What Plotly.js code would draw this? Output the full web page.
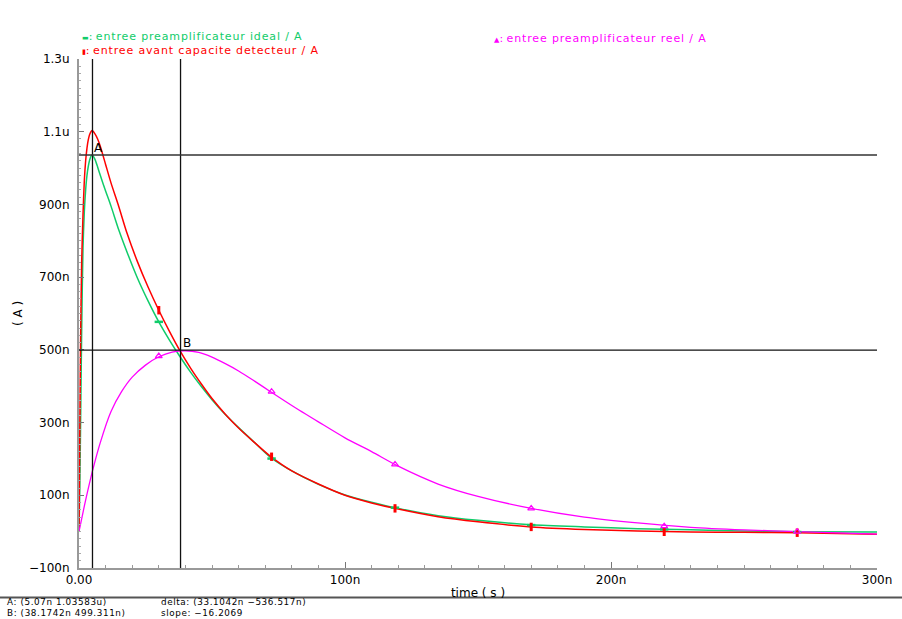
<!DOCTYPE html>
<html><head><meta charset="utf-8">
<script src="https://cdn.plot.ly/plotly-3.0.1.min.js"></script>
<style>html,body{margin:0;padding:0;background:#fff}#chart{width:902px;height:619px}</style>
</head><body><div id="chart"></div>
<script>
// time in ns, current in uA
const timeDet = [0,0.3,0.6,1,1.5,2,2.5,3,3.5,4,4.5,5,6,7,8,10,12,15,18,22,26,30,34,38,42,46,50,55,60,66,72,80,90,100,110,120,135,150,170,190,210,230,250,270,300];
const ideal   = [0,0.12,0.30,0.55,0.78,0.88,0.94,0.98,1.005,1.022,1.033,1.036,1.024,1.003,0.980,0.937,0.896,0.829,0.770,0.697,0.634,0.577,0.527,0.481,0.438,0.399,0.363,0.322,0.286,0.245,0.204,0.167,0.130,0.101,0.081,0.064,0.044,0.031,0.019,0.013,0.008,0.005,0.002,0.000,-0.001];
const avant   = [0,0.28,0.53,0.74,0.87,0.965,1.02,1.055,1.078,1.092,1.100,1.103,1.094,1.080,1.060,1.010,0.960,0.893,0.822,0.742,0.672,0.609,0.551,0.497,0.449,0.406,0.366,0.323,0.285,0.245,0.207,0.167,0.131,0.100,0.079,0.062,0.041,0.027,0.013,0.006,0.002,-0.001,-0.002,-0.003,-0.007];
const timeReel = [0,1,2,3,5,8,12,16,20,25,30,35,40,45,50,55,60,66,72,80,90,100,110,120,135,150,170,190,210,230,250,270,300];
const reel     = [0,0.035,0.070,0.103,0.165,0.245,0.330,0.385,0.425,0.458,0.481,0.494,0.4975,0.493,0.480,0.462,0.442,0.414,0.385,0.347,0.302,0.258,0.220,0.180,0.131,0.097,0.064,0.040,0.024,0.012,0.005,0.000,-0.007];
// marker points
const markTime  = [30,72.4,118.8,170,220,270];
const markIdeal = [0.577,0.201,0.066,0.018,0.006,-0.001];
const markAvant = [0.609,0.206,0.064,0.013,-0.0005,-0.003];
const markReel  = [0.483,0.385,0.185,0.064,0.015,0.000];
// cursors [time ns, current uA]
const cursorA = [5.07, 1.03583];
const cursorB = [38.1742, 0.499311];
// ticks
const yTickVals = [-0.1,0.1,0.3,0.5,0.7,0.9,1.1,1.3];
const yTickText = ['\u2212100n','100n','300n','500n','700n','900n','1.1u','1.3u'];
const xTickVals = [0,100,200,300];
const xTickText = ['0.00','100n','200n','300n'];
const legendNames = ['entree preamplificateur ideal / A','entree avant capacite detecteur / A','entree preamplificateur reel / A'];
const cursorText = ['A: (5.07n 1.03583u)','B: (38.1742n 499.311n)','delta: (33.1042n \u2212536.517n)','slope: \u221216.2069'];

const cG = '#10cc6a', cR = '#ff0000', cM = '#ff00ff';
const font = 'DejaVu Sans, sans-serif';

const traces = [
  {x: timeDet, y: ideal, mode:'lines', line:{color:cG,width:1.5,shape:'spline',smoothing:0.7}},
  {x: timeDet, y: avant, mode:'lines', line:{color:cR,width:1.5,shape:'spline',smoothing:0.7}},
  {x: timeReel, y: reel, mode:'lines', line:{color:cM,width:1.3,shape:'spline',smoothing:0.8}},
  {x: markTime, y: markIdeal, mode:'markers', marker:{symbol:'line-ew-open', size:6, color:cG, line:{color:cG,width:2.5}}},
  {x: markTime, y: markAvant, mode:'markers', marker:{symbol:'line-ns-open', size:6, color:cR, line:{color:cR,width:3}}},
  {x: markTime, y: markReel, mode:'markers', marker:{symbol:'triangle-up-open', size:6, color:cM, line:{color:cM,width:1.2}}}
];

const L = 79, R = 877, T = 59, B = 568;
const px = X => (X - L) / (R - L);
const py = Y => (B - Y) / (B - T);

const shapes = [
  {type:'line', xref:'x', yref:'paper', x0:cursorA[0], x1:cursorA[0], y0:0, y1:1, line:{color:'#111',width:1.3}},
  {type:'line', xref:'x', yref:'paper', x0:cursorB[0], x1:cursorB[0], y0:0, y1:1, line:{color:'#111',width:1.3}},
  {type:'line', xref:'paper', yref:'y', x0:0, x1:1, y0:cursorA[1], y1:cursorA[1], line:{color:'#333',width:1.5}},
  {type:'line', xref:'paper', yref:'y', x0:0, x1:1, y0:cursorB[1], y1:cursorB[1], line:{color:'#111',width:1.3}},
  {type:'line', xref:'paper', yref:'paper', x0:px(0), x1:px(902), y0:py(597.5), y1:py(597.5), line:{color:'#555',width:2}}
];

const ann = (text, X, Y, color, size) => ({xref:'paper', yref:'paper', x:px(X), y:py(Y), text, showarrow:false, xanchor:'left', yanchor:'middle', align:'left', borderpad:0, font:{family:font,size:size||11,color}});
const ls = (s, sp) => '<span style="letter-spacing:' + sp + 'px">' + s + '</span>';

const annotations = [
  ann('<span style="color:' + cG + '"><span style="font-size:7px">\u25AC</span>: ' + ls(legendNames[0], 0.85) + '</span><br>' +
      '<span style="color:' + cR + '"><span style="font-size:7px">\u25AE</span>: ' + ls(legendNames[1], 0.85) + '</span>', 81, 44, cG, 11),
  ann('<span style="font-size:7px">\u25B2</span>: ' + ls(legendNames[2], 0.85), 493, 38, cM, 11),
  ann(ls(cursorText[0], 0.6) + '<br>' + ls(cursorText[1], 0.6), 6, 607, '#000', 8.8),
  ann(ls(cursorText[2], 0.6) + '<br>' + ls(cursorText[3], 0.6), 160, 607, '#000', 8.8),
  {xref:'x', yref:'y', x:cursorA[0], y:cursorA[1], text:'A', showarrow:false, xanchor:'left', yanchor:'bottom', xshift:0, yshift:-2, font:{family:font,size:12,color:'#000'}},
  {xref:'x', yref:'y', x:cursorB[0], y:cursorB[1], text:'B', showarrow:false, xanchor:'left', yanchor:'bottom', xshift:0, yshift:-2, font:{family:font,size:12,color:'#000'}}
];

const layout = {
  width:902, height:619,
  margin:{l:L, r:902-R, t:T, b:619-B, pad:0},
  paper_bgcolor:'#fff', plot_bgcolor:'#fff',
  showlegend:false,
  font:{family:font, size:12, color:'#000'},
  xaxis:{range:[0,300], showgrid:false, zeroline:false, showline:true, linecolor:'#999', linewidth:2,
         ticks:'inside', ticklen:6, tickcolor:'#777', tickwidth:1, tickvals:xTickVals, ticktext:xTickText,
         minor:{dtick:10, ticks:'inside', ticklen:3, tickcolor:'#999'},
         tickfont:{family:font,size:12}, title:{text:'time ( s )', font:{family:font,size:12}, standoff:2}},
  yaxis:{range:[-0.1,1.3], showgrid:false, zeroline:false, showline:true, linecolor:'#999', linewidth:2,
         ticks:'inside', ticklen:5, tickcolor:'#777', tickwidth:1, tickvals:yTickVals, ticktext:yTickText,
         ticklabelstandoff:5,
         minor:{dtick:0.02, ticks:'inside', ticklen:2, tickcolor:'#aaa'},
         tickfont:{family:font,size:12}, title:{text:'( A )', font:{family:font,size:12}, standoff:4}},
  shapes, annotations
};

Plotly.newPlot('chart', traces, layout, {displayModeBar:false, staticPlot:true});
</script></body></html>
